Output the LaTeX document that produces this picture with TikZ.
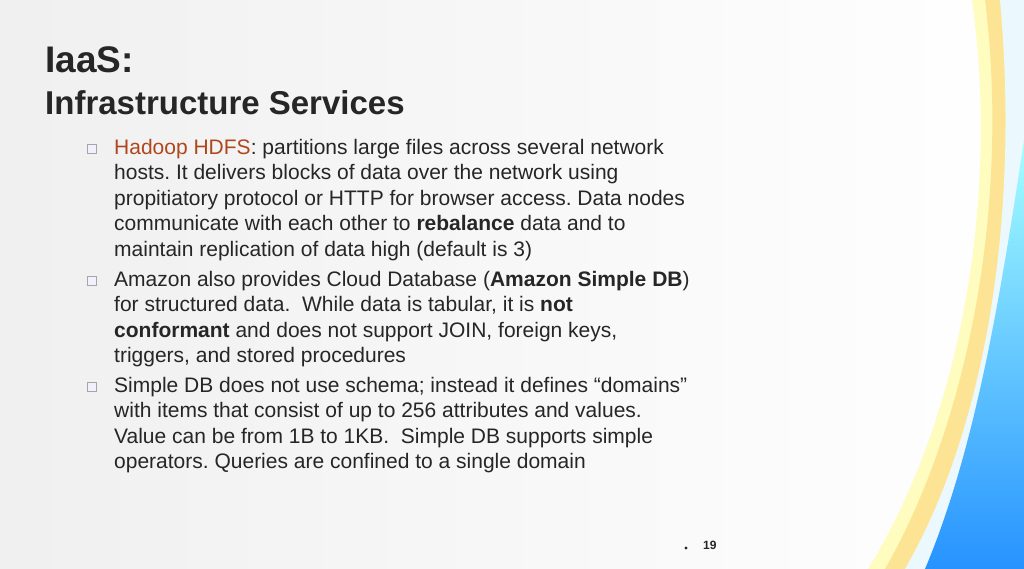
\documentclass[tikz,border=0pt]{standalone}
\usepackage{fontspec}
\setmainfont{Liberation Sans}
\definecolor{txt}{HTML}{262626}
\definecolor{hdfs}{HTML}{B0461C}
\begin{document}
\frenchspacing
\begin{tikzpicture}[x=1pt,y=-1pt,
  para/.style={anchor=north west,align=left,inner sep=0pt,text=txt,font=\fontsize{21}{25.4}\selectfont},
  bul/.style={draw=gray!70,fill=blue!6,minimum size=9pt,inner sep=0pt,line width=0.6pt}]
\fill[left color=black!6,right color=white] (0,0) rectangle (1024,569);
\useasboundingbox (0,0) rectangle (1024,569);
% decoration
\fill[yellow!25] (972,0) .. controls (1000,200) and (960,420) .. (868,569) -- (1024,569) -- (1024,0) -- cycle;
\fill[yellow!55!orange!40] (985,0) .. controls (1010,200) and (970,420) .. (885,569) -- (1024,569) -- (1024,0) -- cycle;
\fill[cyan!8] (1000,0) .. controls (1020,220) and (985,430) .. (905,569) -- (1024,569) -- (1024,0) -- cycle;
\shade[top color=cyan!35!white,bottom color=cyan!50!blue!85] (1024,140) .. controls (1000,300) and (975,450) .. (925,569) -- (1024,569) -- cycle;
% titles
\node[anchor=base west,inner sep=0pt,font=\fontsize{37}{42}\bfseries\selectfont,text=txt] (t1) at (45,73) {IaaS:};
\node[anchor=base west,inner sep=0pt,font=\fontsize{33}{38}\bfseries\selectfont,text=txt] (t2) at (45,115) {Infrastructure Services};
% bullets
\node[bul] (b1) at (92,149) {};
\node[bul] (b2) at (92,281) {};
\node[bul] (b3) at (92,387) {};
\node[para] (p1) at (114,139) {\textcolor{hdfs}{Hadoop HDFS}: partitions large files across several network\\
hosts. It delivers blocks of data over the network using\\
propitiatory protocol or HTTP for browser access. Data nodes\\
communicate with each other to \textbf{rebalance} data and to\\
maintain replication of data high (default is 3)};
\node[para] (p2) at (114,271) {Amazon also provides Cloud Database (\textbf{Amazon Simple DB})\\
for structured data.\ \ While data is tabular, it is \textbf{not}\\
\textbf{conformant} and does not support JOIN, foreign keys,\\
triggers, and stored procedures};
\node[para] (p3) at (114,377) {Simple DB does not use schema; instead it defines “domains”\\
with items that consist of up to 256 attributes and values.\\
Value can be from 1B to 1KB.\ \ Simple DB supports simple\\
operators. Queries are confined to a single domain};
\fill[txt] (686,548) circle (1.6);
\node[anchor=west,inner sep=0pt,font=\fontsize{12}{14}\bfseries\selectfont,text=txt] (pg) at (703,545) {19};
\end{tikzpicture}
\end{document}
